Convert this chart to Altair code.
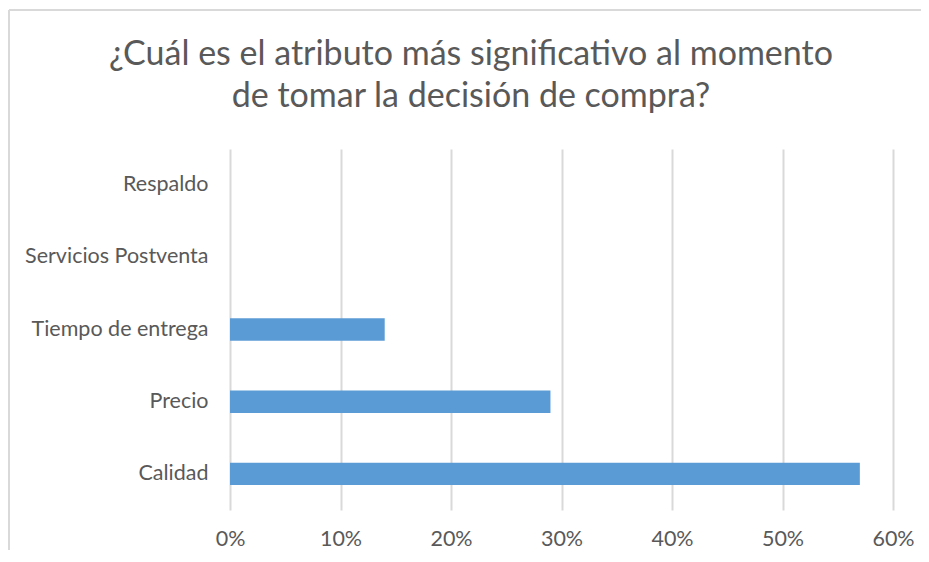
import altair as alt
import pandas as pd

categories = ["Respaldo", "Servicios Postventa", "Tiempo de entrega", "Precio", "Calidad"]
values = [0.0, 0.0, 0.14, 0.29, 0.57]
x_ticks = [0, 0.1, 0.2, 0.3, 0.4, 0.5, 0.6]
title_lines = ["¿Cuál es el atributo más significativo al momento", "de tomar la decisión de compra?"]

df = pd.DataFrame({"atributo": categories, "valor": values})

FONT = "Lato"
GRAY = "#595959"

bars = alt.Chart(df).mark_bar(color="#5b9bd5").encode(
    x=alt.X("valor:Q",
            scale=alt.Scale(domain=[0, 0.6], nice=False),
            axis=alt.Axis(values=x_ticks, format=".0%", title=None, domain=False, ticks=False,
                          grid=True, gridColor="#d9d9d9", gridWidth=2, labelFlush=False,
                          labelFont=FONT, labelFontSize=21.5, labelColor=GRAY, labelPadding=18)),
    y=alt.Y("atributo:N", sort=categories,
            scale=alt.Scale(paddingInner=0.69, paddingOuter=0.345),
            axis=alt.Axis(title=None, domain=False, ticks=False, grid=False, labelLimit=400,
                          labelFont=FONT, labelFontSize=21.5, labelColor=GRAY, labelPadding=22)),
)

frame_left = alt.Chart(df).mark_rule(color="#d9d9d9", strokeWidth=2).encode(
    x=alt.value(-221), y=alt.value(-139), y2=alt.value(500)
)
frame_top = alt.Chart(df).mark_rule(color="#d9d9d9", strokeWidth=2).encode(
    x=alt.value(-221), x2=alt.value(760), y=alt.value(-139)
)

title = alt.Chart(df).transform_filter("datum.atributo == 'Calidad'").mark_text(
    font=FONT, fontSize=34, color=GRAY, align="center", baseline="alphabetic", lineHeight=42
).encode(
    x=alt.value(241), y=alt.value(-84), text=alt.value(title_lines)
)

chart = alt.layer(frame_left, frame_top, bars, title).properties(
    width=663,
    height=361,
    padding={"left": 222, "top": 141, "right": 28, "bottom": 40},
    autosize=alt.AutoSizeParams(type="none"),
).configure(background="white").configure_view(stroke=None)

chart.save("out.html", embed_options={"renderer": "svg", "actions": False})
